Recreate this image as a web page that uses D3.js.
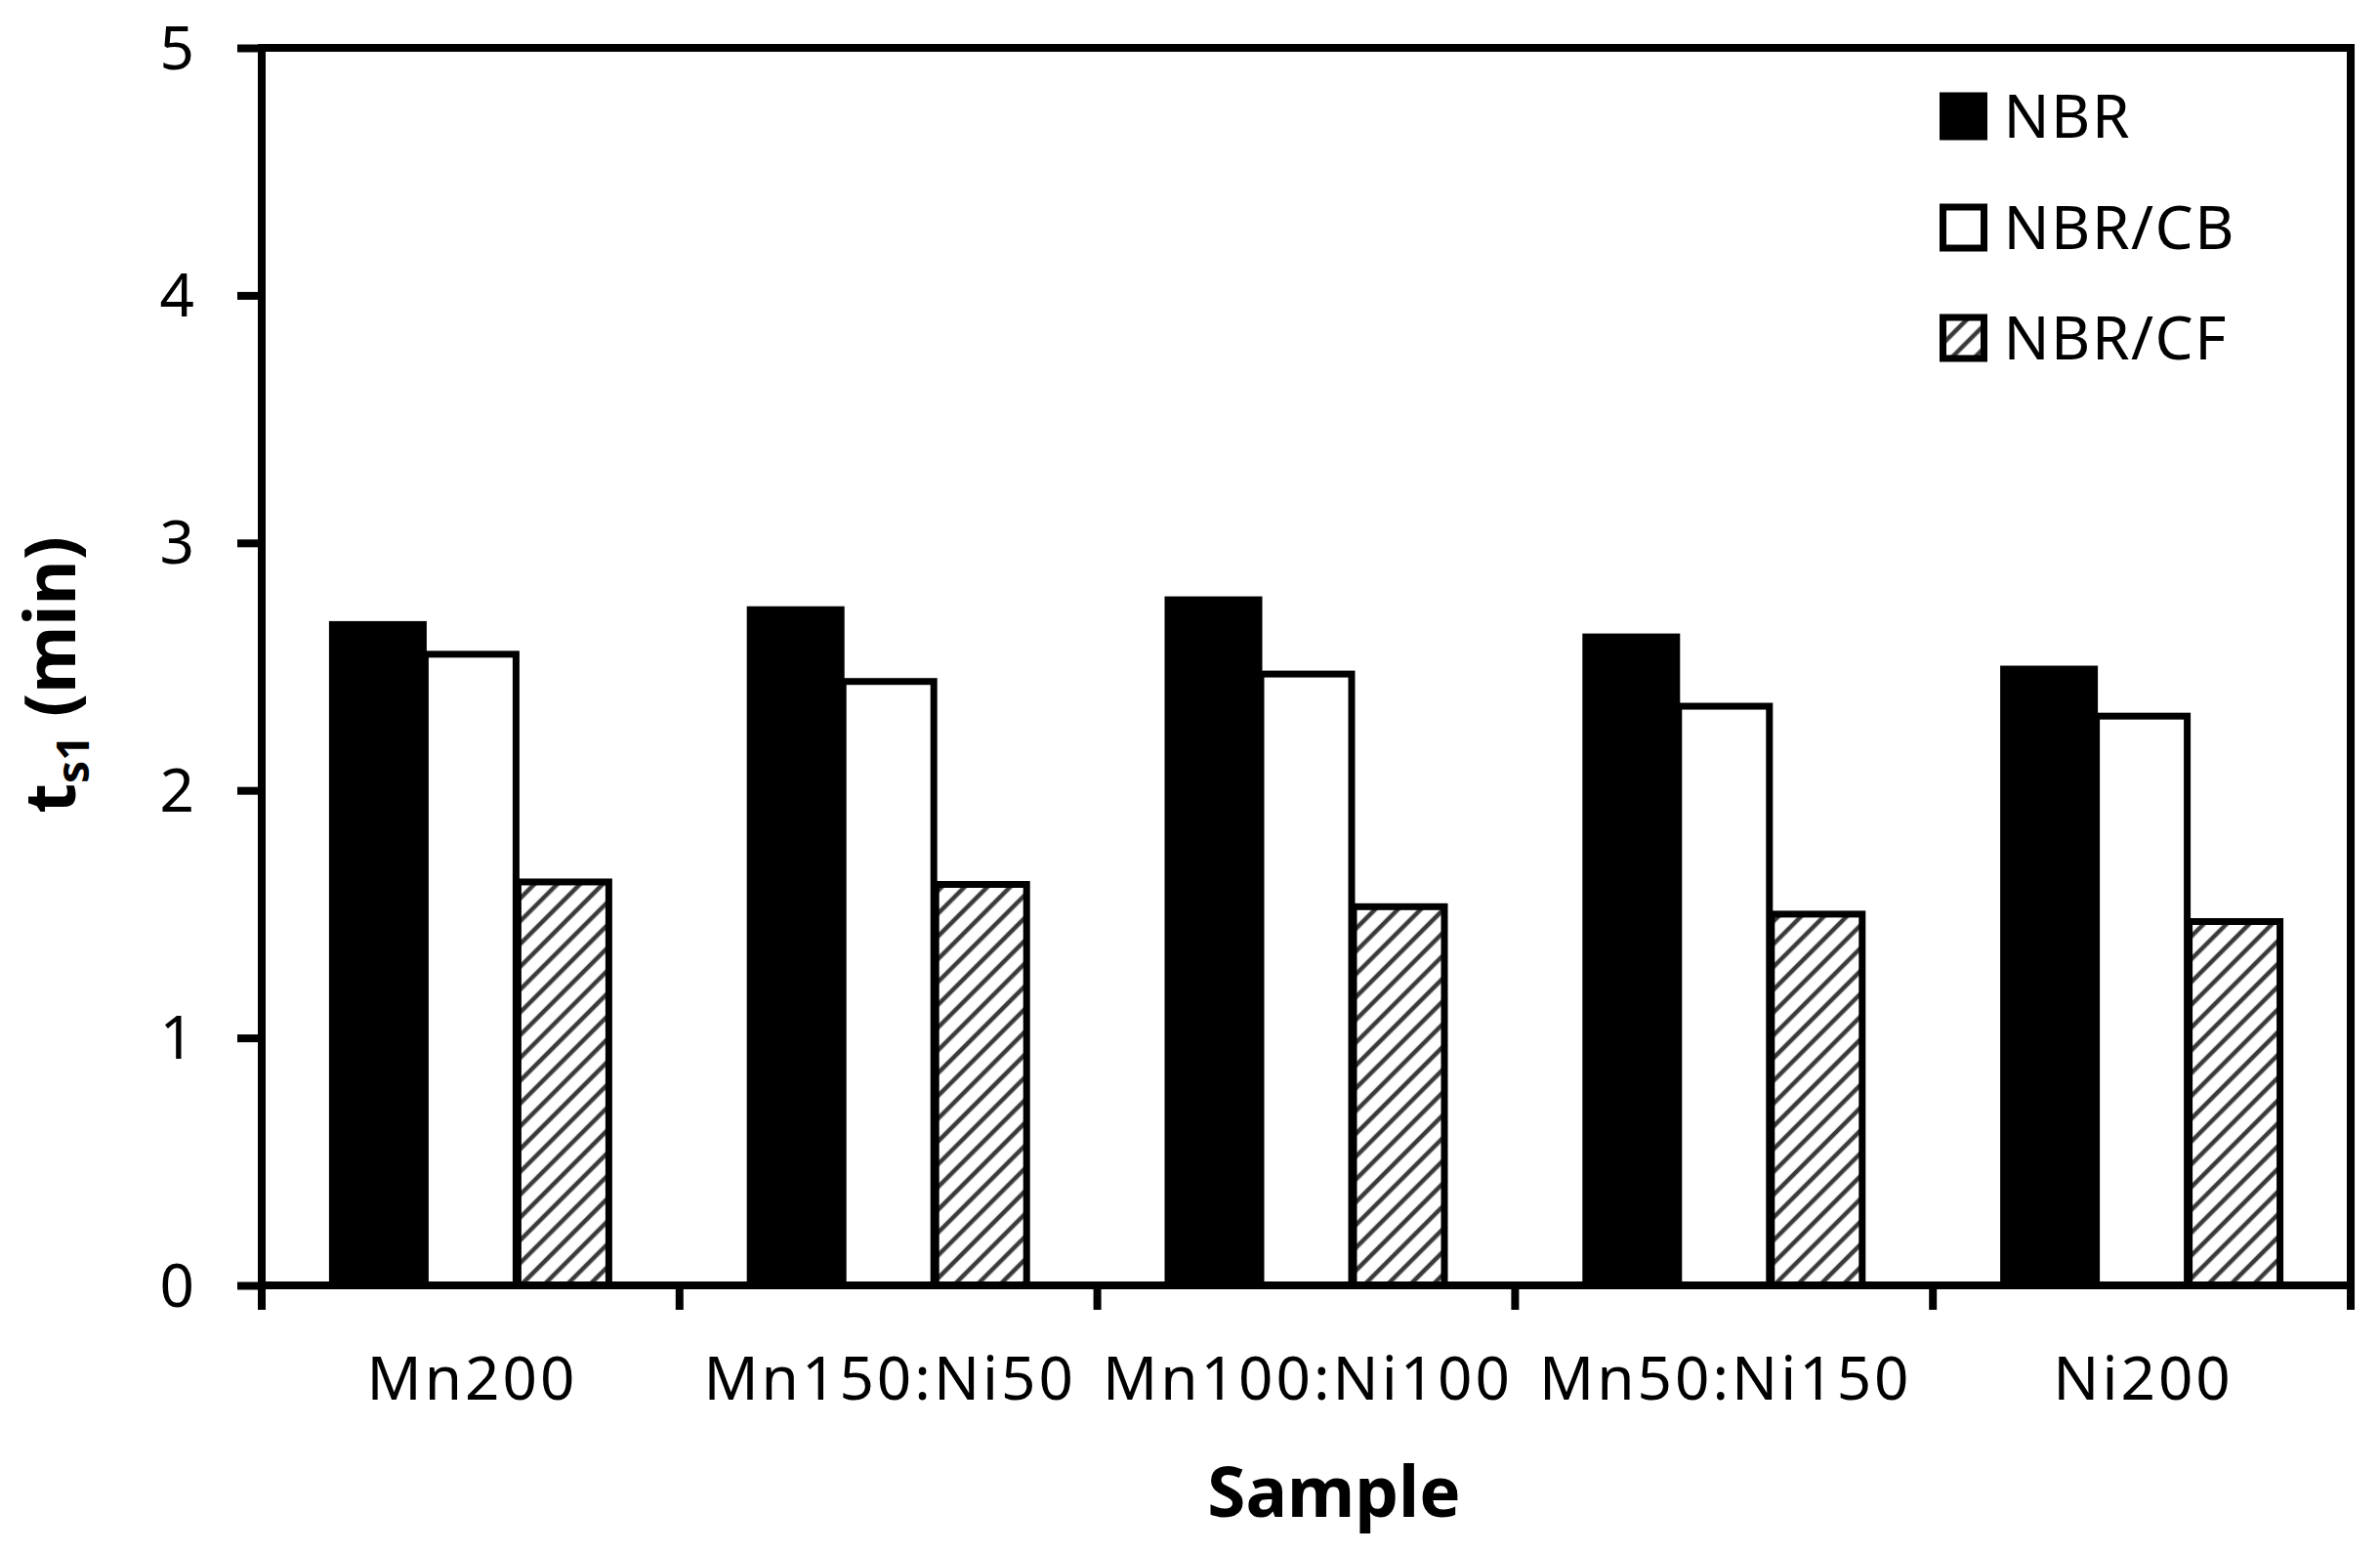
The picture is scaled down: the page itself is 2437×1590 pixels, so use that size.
<!DOCTYPE html>
<html>
<head>
<meta charset="utf-8">
<script src="https://cdn.jsdelivr.net/npm/d3@7"></script>
<style>
  html, body { margin: 0; padding: 0; background: #fff; }
  svg { display: block; }
  text { font-family: "Noto Sans", "Open Sans", sans-serif; fill: #000; }
</style>
</head>
<body>
<script>
// ---- data ----
const categories = ["Mn200", "Mn150:Ni50", "Mn100:Ni100", "Mn50:Ni150", "Ni200"];
const seriesNames = ["NBR", "NBR/CB", "NBR/CF"];
const nbr   = [2.67, 2.73, 2.77, 2.62, 2.49];
const nbrCB = [2.55, 2.44, 2.47, 2.34, 2.30];
const nbrCF = [1.63, 1.62, 1.53, 1.50, 1.47];
const yTicks = [0, 1, 2, 3, 4, 5];
const yTitleMain = "t";
const yTitleSub = "s1";
const yTitleRest = " (min)";
const xTitle = "Sample";

const seriesValues = [nbr, nbrCB, nbrCF];

// ---- layout ----
const W = 2437, H = 1590;
const pLeft = 268, pRight = 2407, pTop = 49, pBottom = 1316;
const lw = 8, barStroke = 7, tickLen = 25;

const svg = d3.select("body").append("svg").attr("width", W).attr("height", H);

const defs = svg.append("defs");
const pat = defs.append("pattern")
  .attr("id", "hatch").attr("patternUnits", "userSpaceOnUse")
  .attr("width", 16.5).attr("height", 16.5)
  .attr("patternTransform", "rotate(45)");
pat.append("rect").attr("width", 16.5).attr("height", 16.5).attr("fill", "#fff");
pat.append("line").attr("x1", 4).attr("x2", 4).attr("y1", 0).attr("y2", 16.5)
  .attr("stroke", "#3a3a3a").attr("stroke-width", 4.5);

const fills = ["#000", "#fff", "url(#hatch)"];

const x0 = d3.scaleBand().domain(categories).range([pLeft, pRight]).padding(0);
const groupW = 285;
const x1 = d3.scaleBand().domain(seriesNames)
  .range([(x0.bandwidth() - groupW) / 2, (x0.bandwidth() + groupW) / 2]).padding(0);
const y = d3.scaleLinear().domain([0, 5]).range([pBottom, pTop]);

// bars
const data = [];
categories.forEach((c, i) => seriesNames.forEach((s, j) => data.push({c, s, j, v: seriesValues[j][i]})));
const barW = x1.bandwidth() - 2;
svg.append("g").selectAll("rect").data(data).join("rect")
  .attr("x", d => x0(d.c) + x1(d.s) + (x1.bandwidth() - barW) / 2)
  .attr("y", d => y(d.v))
  .attr("width", barW)
  .attr("height", d => pBottom - y(d.v))
  .attr("fill", d => fills[d.j])
  .attr("stroke", "#000")
  .attr("stroke-width", barStroke);

// frame
svg.append("rect").attr("x", pLeft).attr("y", pTop)
  .attr("width", pRight - pLeft).attr("height", pBottom - pTop)
  .attr("fill", "none").attr("stroke", "#000").attr("stroke-width", lw);

// y axis
const yAxis = d3.axisLeft(y).tickValues(yTicks).tickSize(tickLen).tickPadding(44).tickFormat(d3.format("d"));
const gy = svg.append("g").attr("transform", `translate(${pLeft},0)`).call(yAxis);
gy.select(".domain").remove();
gy.selectAll(".tick line").attr("stroke", "#000").attr("stroke-width", lw);
gy.selectAll(".tick text").attr("font-size", 62).attr("font-family", '"Noto Sans", sans-serif')
  .attr("dy", "0.34em").attr("fill", "#000");

// x axis (ticks at band boundaries)
const boundaries = categories.map(c => x0(c)).concat([pRight]);
svg.append("g").selectAll("line").data(boundaries).join("line")
  .attr("x1", d => d).attr("x2", d => d)
  .attr("y1", pBottom).attr("y2", pBottom + tickLen)
  .attr("stroke", "#000").attr("stroke-width", lw);
svg.append("g").selectAll("text").data(categories).join("text")
  .attr("x", d => x0(d) + x0.bandwidth() / 2 + 1.5)
  .attr("y", 1433)
  .attr("text-anchor", "middle")
  .attr("font-size", 62)
  .attr("letter-spacing", 3)
  .text(d => d);

// axis titles
svg.append("text").attr("x", 1366).attr("y", 1553)
  .attr("text-anchor", "middle").attr("font-size", 71).attr("font-weight", "bold")
  .text(xTitle);

const yt = svg.append("text")
  .attr("transform", "translate(77,691) rotate(-90)")
  .attr("text-anchor", "middle").attr("font-size", 71).attr("font-weight", "bold");
yt.append("tspan").text(yTitleMain);
yt.append("tspan").attr("font-size", 46).attr("dy", 14).text(yTitleSub);
yt.append("tspan").attr("dy", -14).text(yTitleRest);

// legend
const legY = [119, 233, 346];
const lg = svg.append("g").selectAll("g").data(seriesNames).join("g")
  .attr("transform", (d, i) => `translate(1989.5,${legY[i]})`);
lg.append("rect").attr("x", 0).attr("y", -21).attr("width", 42).attr("height", 42)
  .attr("fill", (d, i) => fills[i]).attr("stroke", "#000").attr("stroke-width", barStroke);
lg.append("text").attr("x", 62).attr("y", 0).attr("dy", "0.36em")
  .attr("font-size", 62).attr("letter-spacing", 1.5).text(d => d);
</script>
</body>
</html>
